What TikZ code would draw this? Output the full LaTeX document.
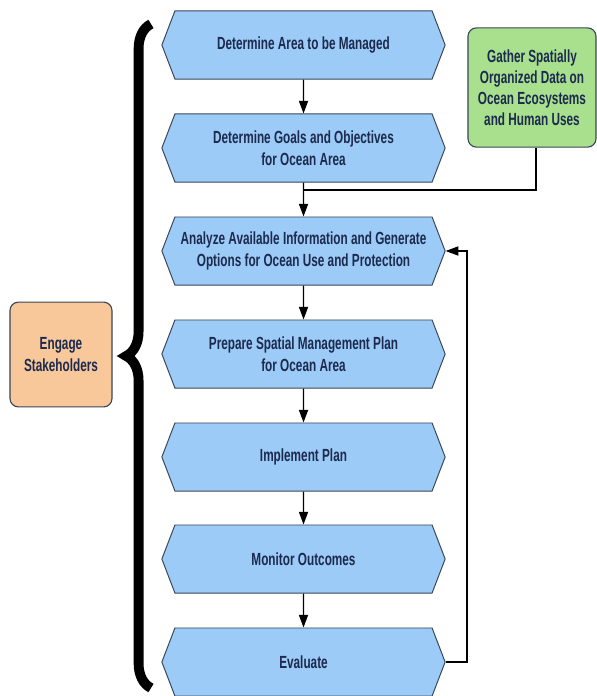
\documentclass[tikz,border=0pt]{standalone}
\usepackage{fontspec}
\newfontfamily\boxfont{Liberation Sans}[FakeStretch=0.67]
\usetikzlibrary{shapes.symbols,arrows.meta,decorations.pathreplacing}

\definecolor{stepblue}{HTML}{9DCBF7}
\definecolor{gathergreen}{HTML}{A8E08E}
\definecolor{engageorange}{HTML}{F8C79A}
\definecolor{textnavy}{HTML}{1C2A4E}
\definecolor{edgegray}{HTML}{3A4656}

\tikzset{
    stepbox/.style={shape=signal, signal to=east and west, signal pointer angle=138,
        draw=edgegray, line width=0.7pt, fill=stepblue, text=textnavy,
        minimum width=7.08cm, minimum height=1.7cm, inner sep=0pt, align=center,
        font=\boxfont\bfseries\fontsize{12.5}{15.5}\selectfont},
    sidebox/.style={draw=edgegray, line width=0.8pt, rounded corners=6pt, text=textnavy,
        align=center, inner sep=0pt, font=\boxfont\bfseries\fontsize{12.5}{15}\selectfont},
    flow/.style={line width=0.9pt, -{Triangle[length=9pt,width=6.5pt]}},
}

\begin{document}
\begin{tikzpicture}[x=0.025cm, y=-0.025cm]
    \useasboundingbox (0,0) rectangle (597,696);
    \coordinate (c1) at (303.5,45);
    \coordinate (c2) at (303.5,148);
    \coordinate (c3) at (303.5,251);
    \coordinate (c4) at (303.5,354);
    \coordinate (c5) at (303.5,457);
    \coordinate (c6) at (303.5,559);
    \coordinate (c7) at (303.5,662);
    \node[stepbox] (area) at (c1) {Determine Area to be Managed};
    \node[stepbox] (goals) at (c2) {Determine Goals and Objectives\\for Ocean Area};
    \node[stepbox] (analyze) at (c3) {Analyze Available Information and Generate\\Options for Ocean Use and Protection};
    \node[stepbox] (prepare) at (c4) {Prepare Spatial Management Plan\\for Ocean Area};
    \node[stepbox] (implement) at (c5) {Implement Plan};
    \node[stepbox] (monitor) at (c6) {Monitor Outcomes};
    \node[stepbox] (evaluate) at (c7) {Evaluate};
    \node[sidebox, fill=gathergreen, minimum width=3.2cm, minimum height=2.98cm] (gather) at (532,87.5)
        {Gather Spatially\\Organized Data on\\Ocean Ecosystems\\and Human Uses};
    \node[sidebox, fill=engageorange, minimum width=2.55cm, minimum height=2.62cm] (engage) at (61,354.5)
        {Engage\\Stakeholders};
    % main sequence
    \draw[flow] (area) -- (goals);
    \draw[flow] (goals) -- (analyze);
    \draw[flow] (analyze) -- (prepare);
    \draw[flow] (prepare) -- (implement);
    \draw[flow] (implement) -- (monitor);
    \draw[flow] (monitor) -- (evaluate);
    % data joins the sequence
    \coordinate (join) at (303.5,190);
    \draw[line width=0.9pt] ([xshift=0.1cm]gather.south) |- (join);
    % feedback loop
    \coordinate (back) at (467,662);
    \draw[flow] (evaluate.east) -- (back) |- (analyze.east);
    % brace round the steps
    \draw[line width=7pt, decorate, decoration={brace, amplitude=0.62cm}] (151,688) -- (151,24);
\end{tikzpicture}
\end{document}
